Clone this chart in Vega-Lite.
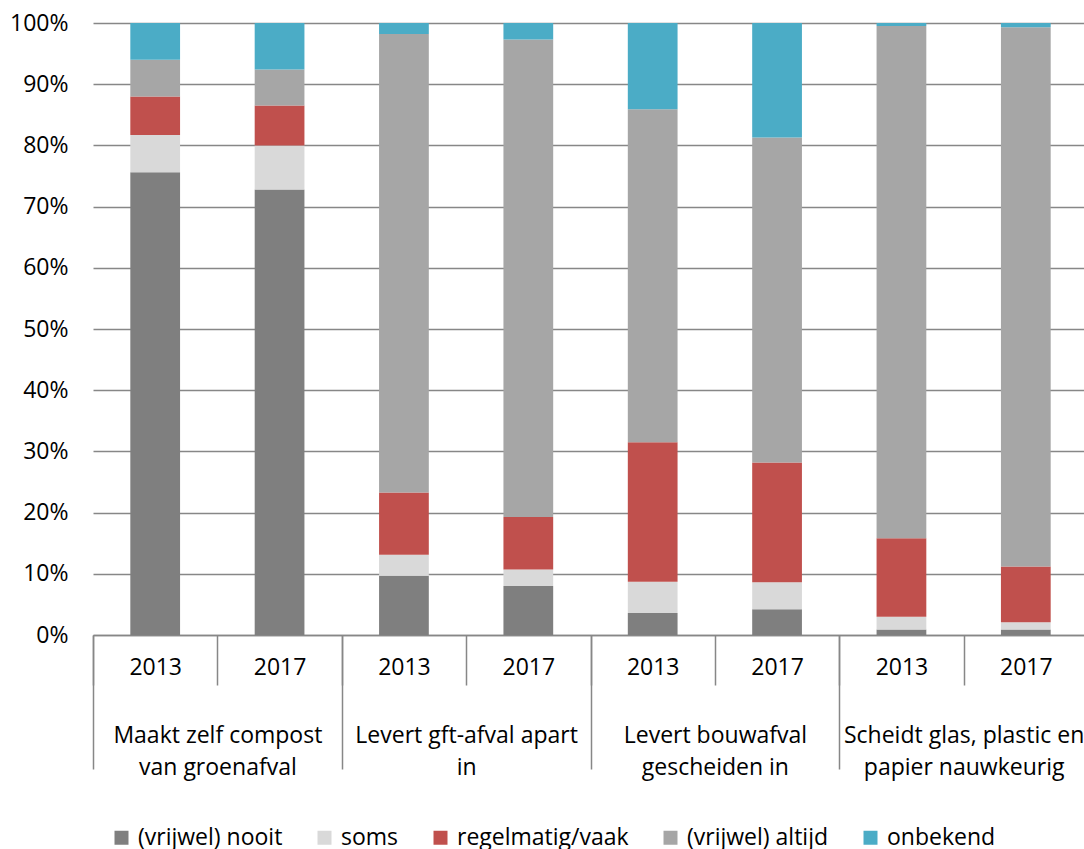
{
  "$schema": "https://vega.github.io/schema/vega-lite/v6.json",
  "width": 995,
  "height": 612,
  "autosize": "none",
  "padding": {"left": 93, "top": 23, "right": 0, "bottom": 214},
  "background": "white",
  "config": {"font": "Open Sans", "view": {"stroke": null}},
  "data": {"values": [
    {"category": "Maakt zelf compost van groenafval", "bar": "Maakt zelf compost van groenafval 2013", "series": "(vrijwel) nooit", "rank": 1, "value": 75.6},
    {"category": "Maakt zelf compost van groenafval", "bar": "Maakt zelf compost van groenafval 2013", "series": "soms", "rank": 2, "value": 6.1},
    {"category": "Maakt zelf compost van groenafval", "bar": "Maakt zelf compost van groenafval 2013", "series": "regelmatig/vaak", "rank": 3, "value": 6.3},
    {"category": "Maakt zelf compost van groenafval", "bar": "Maakt zelf compost van groenafval 2013", "series": "(vrijwel) altijd", "rank": 4, "value": 6.0},
    {"category": "Maakt zelf compost van groenafval", "bar": "Maakt zelf compost van groenafval 2013", "series": "onbekend", "rank": 5, "value": 6.0},
    {"category": "Maakt zelf compost van groenafval", "bar": "Maakt zelf compost van groenafval 2017", "series": "(vrijwel) nooit", "rank": 1, "value": 72.8},
    {"category": "Maakt zelf compost van groenafval", "bar": "Maakt zelf compost van groenafval 2017", "series": "soms", "rank": 2, "value": 7.2},
    {"category": "Maakt zelf compost van groenafval", "bar": "Maakt zelf compost van groenafval 2017", "series": "regelmatig/vaak", "rank": 3, "value": 6.5},
    {"category": "Maakt zelf compost van groenafval", "bar": "Maakt zelf compost van groenafval 2017", "series": "(vrijwel) altijd", "rank": 4, "value": 5.9},
    {"category": "Maakt zelf compost van groenafval", "bar": "Maakt zelf compost van groenafval 2017", "series": "onbekend", "rank": 5, "value": 7.6},
    {"category": "Levert gft-afval apart in", "bar": "Levert gft-afval apart in 2013", "series": "(vrijwel) nooit", "rank": 1, "value": 9.7},
    {"category": "Levert gft-afval apart in", "bar": "Levert gft-afval apart in 2013", "series": "soms", "rank": 2, "value": 3.4},
    {"category": "Levert gft-afval apart in", "bar": "Levert gft-afval apart in 2013", "series": "regelmatig/vaak", "rank": 3, "value": 10.2},
    {"category": "Levert gft-afval apart in", "bar": "Levert gft-afval apart in 2013", "series": "(vrijwel) altijd", "rank": 4, "value": 74.9},
    {"category": "Levert gft-afval apart in", "bar": "Levert gft-afval apart in 2013", "series": "onbekend", "rank": 5, "value": 1.8},
    {"category": "Levert gft-afval apart in", "bar": "Levert gft-afval apart in 2017", "series": "(vrijwel) nooit", "rank": 1, "value": 8.0},
    {"category": "Levert gft-afval apart in", "bar": "Levert gft-afval apart in 2017", "series": "soms", "rank": 2, "value": 2.7},
    {"category": "Levert gft-afval apart in", "bar": "Levert gft-afval apart in 2017", "series": "regelmatig/vaak", "rank": 3, "value": 8.6},
    {"category": "Levert gft-afval apart in", "bar": "Levert gft-afval apart in 2017", "series": "(vrijwel) altijd", "rank": 4, "value": 78.0},
    {"category": "Levert gft-afval apart in", "bar": "Levert gft-afval apart in 2017", "series": "onbekend", "rank": 5, "value": 2.7},
    {"category": "Levert bouwafval gescheiden in", "bar": "Levert bouwafval gescheiden in 2013", "series": "(vrijwel) nooit", "rank": 1, "value": 3.6},
    {"category": "Levert bouwafval gescheiden in", "bar": "Levert bouwafval gescheiden in 2013", "series": "soms", "rank": 2, "value": 5.1},
    {"category": "Levert bouwafval gescheiden in", "bar": "Levert bouwafval gescheiden in 2013", "series": "regelmatig/vaak", "rank": 3, "value": 22.8},
    {"category": "Levert bouwafval gescheiden in", "bar": "Levert bouwafval gescheiden in 2013", "series": "(vrijwel) altijd", "rank": 4, "value": 54.4},
    {"category": "Levert bouwafval gescheiden in", "bar": "Levert bouwafval gescheiden in 2013", "series": "onbekend", "rank": 5, "value": 14.1},
    {"category": "Levert bouwafval gescheiden in", "bar": "Levert bouwafval gescheiden in 2017", "series": "(vrijwel) nooit", "rank": 1, "value": 4.2},
    {"category": "Levert bouwafval gescheiden in", "bar": "Levert bouwafval gescheiden in 2017", "series": "soms", "rank": 2, "value": 4.4},
    {"category": "Levert bouwafval gescheiden in", "bar": "Levert bouwafval gescheiden in 2017", "series": "regelmatig/vaak", "rank": 3, "value": 19.6},
    {"category": "Levert bouwafval gescheiden in", "bar": "Levert bouwafval gescheiden in 2017", "series": "(vrijwel) altijd", "rank": 4, "value": 53.1},
    {"category": "Levert bouwafval gescheiden in", "bar": "Levert bouwafval gescheiden in 2017", "series": "onbekend", "rank": 5, "value": 18.7},
    {"category": "Scheidt glas, plastic en papier nauwkeurig", "bar": "Scheidt glas, plastic en papier nauwkeurig 2013", "series": "(vrijwel) nooit", "rank": 1, "value": 0.9},
    {"category": "Scheidt glas, plastic en papier nauwkeurig", "bar": "Scheidt glas, plastic en papier nauwkeurig 2013", "series": "soms", "rank": 2, "value": 2.1},
    {"category": "Scheidt glas, plastic en papier nauwkeurig", "bar": "Scheidt glas, plastic en papier nauwkeurig 2013", "series": "regelmatig/vaak", "rank": 3, "value": 12.8},
    {"category": "Scheidt glas, plastic en papier nauwkeurig", "bar": "Scheidt glas, plastic en papier nauwkeurig 2013", "series": "(vrijwel) altijd", "rank": 4, "value": 83.7},
    {"category": "Scheidt glas, plastic en papier nauwkeurig", "bar": "Scheidt glas, plastic en papier nauwkeurig 2013", "series": "onbekend", "rank": 5, "value": 0.5},
    {"category": "Scheidt glas, plastic en papier nauwkeurig", "bar": "Scheidt glas, plastic en papier nauwkeurig 2017", "series": "(vrijwel) nooit", "rank": 1, "value": 0.9},
    {"category": "Scheidt glas, plastic en papier nauwkeurig", "bar": "Scheidt glas, plastic en papier nauwkeurig 2017", "series": "soms", "rank": 2, "value": 1.2},
    {"category": "Scheidt glas, plastic en papier nauwkeurig", "bar": "Scheidt glas, plastic en papier nauwkeurig 2017", "series": "regelmatig/vaak", "rank": 3, "value": 9.1},
    {"category": "Scheidt glas, plastic en papier nauwkeurig", "bar": "Scheidt glas, plastic en papier nauwkeurig 2017", "series": "(vrijwel) altijd", "rank": 4, "value": 88.1},
    {"category": "Scheidt glas, plastic en papier nauwkeurig", "bar": "Scheidt glas, plastic en papier nauwkeurig 2017", "series": "onbekend", "rank": 5, "value": 0.7}
  ]},
  "layer": [
    {
      "mark": {"type": "bar", "width": {"band": 0.4}},
      "encoding": {
        "x": {
          "field": "bar", "type": "nominal",
          "sort": ["Maakt zelf compost van groenafval 2013", "Maakt zelf compost van groenafval 2017", "Levert gft-afval apart in 2013", "Levert gft-afval apart in 2017", "Levert bouwafval gescheiden in 2013", "Levert bouwafval gescheiden in 2017", "Scheidt glas, plastic en papier nauwkeurig 2013", "Scheidt glas, plastic en papier nauwkeurig 2017"],
          "scale": {"paddingInner": 0, "paddingOuter": 0},
          "axis": {
            "title": null, "orient": "bottom",
            "labelExpr": "isString(datum.value) ? slice(datum.value, -4) : ''", "labelAngle": 0,
            "tickBand": "extent", "tickSize": 50, "tickColor": "#878787", "tickWidth": 1.5,
            "domainColor": "#878787", "domainWidth": 1.5,
            "labelFontSize": 23, "labelPadding": -18, "labelBaseline": "middle", "labelColor": "#000000",
            "labelOverlap": false
          }
        },
        "y": {
          "field": "value", "type": "quantitative", "stack": "zero",
          "scale": {"domain": [0, 100], "nice": false},
          "axis": {
            "title": null, "values": [0, 10, 20, 30, 40, 50, 60, 70, 80, 90, 100],
            "labelExpr": "datum.value + '%'", "ticks": false, "domain": false,
            "grid": true, "gridColor": "#878787", "gridWidth": 1.5,
            "labelFontSize": 23, "labelPadding": 25, "labelColor": "#000000"
          }
        },
        "color": {
          "field": "series", "type": "nominal",
          "scale": {
            "domain": ["(vrijwel) nooit", "soms", "regelmatig/vaak", "(vrijwel) altijd", "onbekend"],
            "range": ["#7f7f7f", "#d9d9d9", "#c0504d", "#a6a6a6", "#4bacc6"]
          },
          "legend": {
            "title": null, "orient": "none", "legendX": 17, "legendY": 803,
            "direction": "horizontal", "symbolType": "square", "symbolSize": 196,
            "labelFontSize": 23, "labelColor": "#000000",
            "columnPadding": 30, "labelOffset": 5, "labelLimit": 400
          }
        },
        "order": {"field": "rank", "type": "quantitative", "sort": "ascending"}
      }
    },
    {
      "mark": {"type": "rule", "opacity": 0},
      "encoding": {
        "x": {
          "field": "category", "type": "nominal",
          "sort": ["Maakt zelf compost van groenafval", "Levert gft-afval apart in", "Levert bouwafval gescheiden in", "Scheidt glas, plastic en papier nauwkeurig"],
          "scale": {"paddingInner": 0, "paddingOuter": 0},
          "axis": {
            "title": null, "orient": "bottom", "labelAngle": 0,
            "labelExpr": "datum.value == 'Maakt zelf compost van groenafval' ? ['Maakt zelf compost', 'van groenafval'] : datum.value == 'Levert gft-afval apart in' ? ['Levert gft-afval apart', 'in'] : datum.value == 'Levert bouwafval gescheiden in' ? ['Levert bouwafval', 'gescheiden in'] : datum.value == 'Scheidt glas, plastic en papier nauwkeurig' ? ['Scheidt glas, plastic en', 'papier nauwkeurig'] : ''",
            "tickBand": "extent", "tickSize": 134, "tickColor": "#878787", "tickWidth": 1.5,
            "domain": false, "labelFontSize": 23, "labelPadding": -34, "labelBaseline": "middle",
            "labelLineHeight": 32, "labelColor": "#000000", "labelOverlap": false, "labelLimit": 400
          }
        }
      }
    }
  ],
  "resolve": {"scale": {"x": "independent"}, "axis": {"x": "independent"}}
}
